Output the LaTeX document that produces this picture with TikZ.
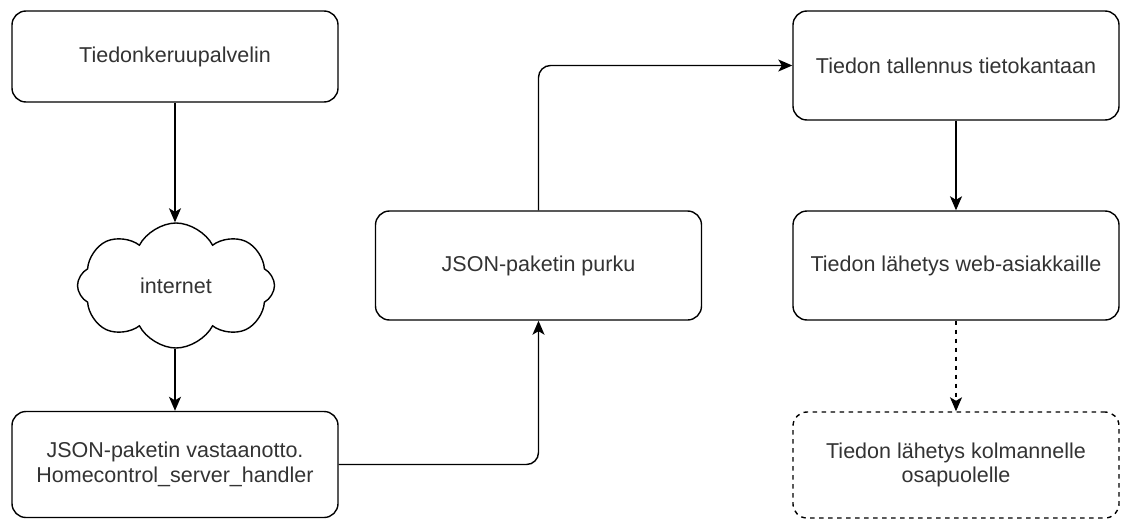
\documentclass[tikz,border=0pt]{standalone}
\usepackage{fontspec}
\setmainfont{Liberation Sans}
\usetikzlibrary{arrows.meta,shapes.symbols}

\tikzset{
  lohko/.style={draw, rounded corners=14pt, line width=1.4pt, inner sep=0pt,
    minimum width=326pt, minimum height=109pt, align=center, text=black!80,
    font=\fontsize{21.5}{24.5}\selectfont},
  katko/.style={lohko, dash pattern=on 4.5pt off 4.5pt},
  pilvi/.style={draw, cloud, cloud puffs=8, cloud puff arc=125, aspect=1.6,
    line width=1.4pt, inner sep=0pt, minimum width=197pt, minimum height=125pt,
    text=black!80, font=\fontsize{21.5}{24.5}\selectfont},
  nuoli/.style={line width=1.4pt, -{Stealth[length=14pt,width=12pt,inset=3.5pt]}},
  kulma/.style={nuoli, rounded corners=12pt}
}

\begin{document}
\begin{tikzpicture}[x=1pt,y=-1pt]
\useasboundingbox (0,0) rectangle (1121,519);

	\node[lohko, minimum height=91pt] (keruu) at (175,56.5) {Tiedonkeruupalvelin};
	\node[pilvi] (netti) at (176,285.5) {internet};
	\node[lohko, minimum height=106pt] (vastaanotto) at (175,464.5) {JSON-paketin vastaanotto.\\Homecontrol\_server\_handler};
	\node[lohko] (purku) at (538.5,265.5) {JSON-paketin purku};
	\node[lohko] (tallennus) at (956,65.5) {Tiedon tallennus tietokantaan};
	\node[lohko] (web) at (956,265.5) {Tiedon lähetys web-asiakkaille};
	\node[katko, minimum height=106pt] (kolmas) at (956,465) {Tiedon lähetys kolmannelle\\osapuolelle};

	\draw[nuoli] (keruu.south) -- (keruu.south |- netti.north);
	\draw[nuoli] (keruu.south |- netti.south) -- (vastaanotto.north);
	\draw[kulma] (vastaanotto.east) -| (purku.south);
	\draw[kulma] (purku.north) |- (tallennus.west);
	\draw[nuoli] (tallennus.south) -- (web.north);
	\draw[nuoli, dash pattern=on 4.5pt off 4.5pt] (web.south) -- (kolmas.north);
\end{tikzpicture}
\end{document}
